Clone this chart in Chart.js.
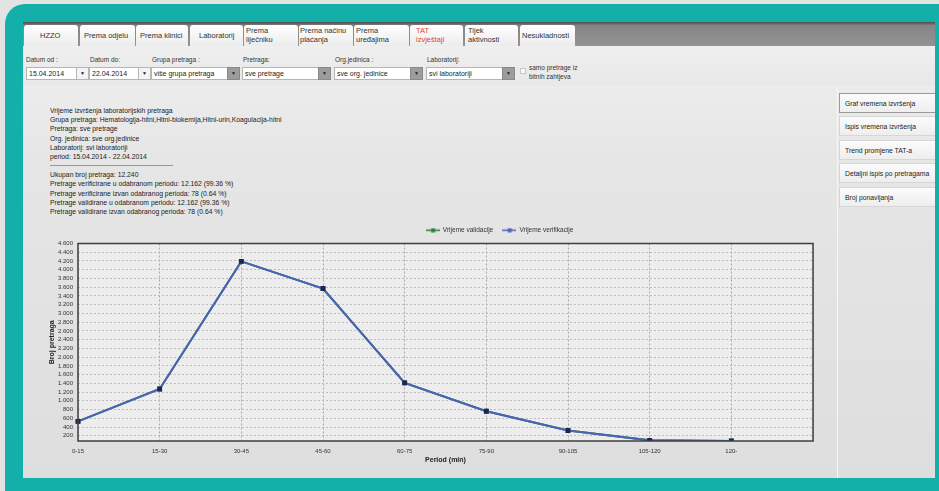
<!DOCTYPE html>
<html>
<head>
<meta charset="utf-8">
<script src="https://cdn.jsdelivr.net/npm/chart.js@4"></script>
<style>
  body { margin: 0; width: 939px; height: 491px; overflow: hidden; background: #e3e3e3; font-family: "Liberation Sans", Arial, sans-serif; position: relative; }
  .teal { position: absolute; left: 5px; top: 4px; width: 980px; height: 540px; background: #13b0aa; border-radius: 20px; }
  .app { position: absolute; left: 23px; top: 22px; width: 912px; height: 456px; background: linear-gradient(#f1f1f1, #e6e6e6 30%, #dedede); overflow: hidden; }
  .tabbar { position: absolute; left: 0; top: 0; width: 912px; height: 24px; background: linear-gradient(#4d4d4d, #858585 15%, #939393); }
  .tab { position: absolute; top: 3px; height: 21px; background: linear-gradient(#ffffff, #ececec); border-radius: 3px 3px 0 0; font-size: 7.5px; color: #333; line-height: 8.5px; box-sizing: border-box; }
  .tab span { position: absolute; }
  .toolbar { position: absolute; left: 0; top: 24px; width: 912px; height: 40px; background: linear-gradient(#efefef, #e8e8e8); }
  .lbl { position: absolute; font-size: 6.5px; color: #333; }
  .inp { position: absolute; height: 11px; background: #fff; border: 1px solid #b5b5b5; font-size: 7px; color: #222; line-height: 11px; padding-left: 2px; box-sizing: content-box; }
  .arr { position: absolute; height: 11px; width: 11px; background: #9c9c9c; border: 1px solid #8a8a8a; font-size: 5px; text-align: center; line-height: 11px; color: #222; }
  .arr.w { background: #f4f4f4; border-color: #b5b5b5; }
  .info { position: absolute; left: 27px; top: 84px; font-size: 6.8px; line-height: 9.2px; color: #222; white-space: nowrap; }
  .sep { width: 123px; border-top: 1px solid #9a9a9a; margin: 4px 0 4px 0; }
  .side { position: absolute; left: 814px; top: 64px; width: 1px; height: 400px; background: #f7f7f7; }
  .btn { position: absolute; left: 816px; width: 100px; height: 20px; background: linear-gradient(#fbfbfb, #eeeeee); border: 1px solid #d6d6d6; font-size: 6.8px; color: #222; line-height: 20px; padding-left: 5px; box-sizing: border-box; }
  .btn.sel { border-color: #9a9a9a; }
  #wrap { position: absolute; left: 17px; top: 196px; width: 792px; height: 252px; }
</style>
</head>
<body>
<div class="teal"></div>
<div class="app">
  <div class="tabbar">
    <div class="tab" style="left:1px;width:54px;"><span style="left:16px;top:7px;">HZZO</span></div>
    <div class="tab" style="left:57px;width:55px;"><span style="left:4px;top:7px;">Prema odjelu</span></div>
    <div class="tab" style="left:113px;width:52px;"><span style="left:4px;top:7px;">Prema klinici</span></div>
    <div class="tab" style="left:167px;width:53px;"><span style="left:9px;top:7px;">Laboratorij</span></div>
    <div class="tab" style="left:221px;width:54px;"><span style="left:2px;top:2px;">Prema<br>liječniku</span></div>
    <div class="tab" style="left:276px;width:54px;"><span style="left:1px;top:2px;">Prema načinu<br>plaćanja</span></div>
    <div class="tab" style="left:331px;width:55px;"><span style="left:2px;top:2px;">Prema<br>uređajima</span></div>
    <div class="tab" style="left:387px;width:53px;color:#e5442b;"><span style="left:6px;top:2px;">TAT<br>izvještaji</span></div>
    <div class="tab" style="left:442px;width:53px;"><span style="left:3px;top:2px;">Tijek<br>aktivnosti</span></div>
    <div class="tab" style="left:497px;width:55px;"><span style="left:2px;top:7px;">Nesukladnosti</span></div>
  </div>
  <div class="toolbar">
    <div class="lbl" style="left:3px;top:10px;">Datum od :</div>
    <div class="inp" style="left:3px;top:21px;width:48px;">15.04.2014</div>
    <div class="arr w" style="left:53px;top:21px;">▼</div>
    <div class="lbl" style="left:67px;top:10px;">Datum do:</div>
    <div class="inp" style="left:66px;top:21px;width:47px;">22.04.2014</div>
    <div class="arr w" style="left:115px;top:21px;">▼</div>
    <div class="lbl" style="left:129px;top:10px;">Grupa pretraga :</div>
    <div class="inp" style="left:128px;top:21px;width:74px;">više grupa pretraga</div>
    <div class="arr" style="left:204px;top:21px;">▼</div>
    <div class="lbl" style="left:220px;top:10px;">Pretraga:</div>
    <div class="inp" style="left:219px;top:21px;width:74px;">sve pretrage</div>
    <div class="arr" style="left:295px;top:21px;">▼</div>
    <div class="lbl" style="left:312px;top:10px;">Org.jedinica :</div>
    <div class="inp" style="left:311px;top:21px;width:74px;">sve org. jedinice</div>
    <div class="arr" style="left:387px;top:21px;">▼</div>
    <div class="lbl" style="left:404px;top:10px;">Laboratorij:</div>
    <div class="inp" style="left:403px;top:21px;width:74px;">svi laboratoriji</div>
    <div class="arr" style="left:479px;top:21px;">▼</div>
    <div class="lbl" style="left:497px;top:22px;width:4px;height:4px;border:1px solid #c8c8c8;background:#fafafa;"></div>
    <div class="lbl" style="left:506px;top:18px;line-height:8.5px;">samo pretrage iz<br>bitnih zahtjeva</div>
  </div>
  <div class="info">
    Vrijeme izvršenja laboratorijskih pretraga<br>
    Grupa pretraga: Hematologija-hitni,Hitni-biokemija,Hitni-urin,Koagulacija-hitni<br>
    Pretraga: sve pretrage<br>
    Org. jedinica: sve org.jedinice<br>
    Laboratorij: svi laboratoriji<br>
    period: 15.04.2014 - 22.04.2014
    <div class="sep"></div>
    Ukupan broj pretraga: 12.240<br>
    Pretrage verificirane u odabranom periodu: 12.162 (99.36 %)<br>
    Pretrage verificirane izvan odabranog perioda: 78 (0.64 %)<br>
    Pretrage validirane u odabranom periodu: 12.162 (99.36 %)<br>
    Pretrage validirane izvan odabranog perioda: 78 (0.64 %)
  </div>
  <div class="side"></div>
  <div class="btn sel" style="top:71px;">Graf vremena izvršenja</div>
  <div class="btn" style="top:94px;">Ispis vremena izvršenja</div>
  <div class="btn" style="top:118px;">Trend promjene TAT-a</div>
  <div class="btn" style="top:141px;">Detaljni ispis po pretragama</div>
  <div class="btn" style="top:165px;">Broj ponavljanja</div>
  <div id="wrap"><canvas id="myChart"></canvas></div>
</div>
<script>
// podaci očitani s grafa
const periods = ['0-15', '15-30', '30-45', '45-60', '60-75', '75-90', '90-105', '105-120', '120-', ''];
const vrijemeValidacije = [530, 1270, 4190, 3570, 1410, 760, 320, 95, 80, null];
const vrijemeVerifikacije = [530, 1270, 4190, 3570, 1410, 760, 320, 95, 80, null];
const yTickValues = [200, 400, 600, 800, 1000, 1200, 1400, 1600, 1800, 2000, 2200, 2400,
                     2600, 2800, 3000, 3200, 3400, 3600, 3800, 4000, 4200, 4400, 4600];
const yMin = 80;
const yMax = 4600;

function fmt(v) {
    return String(v).replace(/\B(?=(\d{3})+(?!\d))/g, '.');
}

// ikona legende: linija s kvadratićem u sredini
function legendIcon(color) {
    const c = document.createElement('canvas');
    c.width = 14; c.height = 5;
    const g = c.getContext('2d');
    g.strokeStyle = color; g.lineWidth = 1.5;
    g.beginPath(); g.moveTo(0, 2.5); g.lineTo(14, 2.5); g.stroke();
    g.fillStyle = color; g.fillRect(5.5, 0.5, 4, 4);
    return c;
}

const plotFrame = {
    id: 'plotFrame',
    afterLayout(chart) {
        // legenda je u originalu pomaknuta udesno
        chart.legend.left += 73;
        chart.legend.right += 73;
    },
    beforeDraw(chart) {
        const a = chart.chartArea, c = chart.ctx;
        c.save();
        c.fillStyle = '#ededed';
        c.fillRect(a.left, a.top, a.right - a.left, a.bottom - a.top);
        c.restore();
    },
    afterDraw(chart) {
        const a = chart.chartArea, c = chart.ctx;
        c.save();
        c.strokeStyle = '#3f3f3f';
        c.lineWidth = 1.5;
        c.strokeRect(a.left, a.top, a.right - a.left, a.bottom - a.top);
        c.restore();
    }
};

const ctx = document.getElementById('myChart').getContext('2d');

const myChart = new Chart(ctx, {
    type: 'line',
    data: {
        labels: periods,
        datasets: [{
            label: 'Vrijeme validacije',
            data: vrijemeValidacije,
            borderColor: '#2f7d3a',
            backgroundColor: '#2f7d3a',
            borderWidth: 2,
            pointStyle: 'rect',
            pointRadius: 2,
            tension: 0,
            order: 1
        }, {
            label: 'Vrijeme verifikacije',
            data: vrijemeVerifikacije,
            borderColor: '#4a62b8',
            backgroundColor: '#1d2552',
            pointBorderColor: '#1d2552',
            borderWidth: 2,
            pointStyle: 'rect',
            pointRadius: 2,
            tension: 0,
            order: 0
        }]
    },
    options: {
        responsive: true,
        maintainAspectRatio: false,
        animation: false,
        layout: { padding: { top: 0, right: 19, left: 0, bottom: 0 } },
        plugins: {
            legend: {
                position: 'top',
                labels: {
                    usePointStyle: true,
                    pointStyleWidth: 14,
                    boxHeight: 6,
                    padding: 9,
                    color: '#333',
                    font: { size: 6.5, family: 'Liberation Sans' },
                    generateLabels: function(chart) {
                        return chart.data.datasets.map((ds, i) => ({
                            text: ds.label,
                            pointStyle: legendIcon(ds.borderColor),
                            fillStyle: ds.borderColor,
                            strokeStyle: ds.borderColor,
                            lineWidth: 0,
                            fontColor: '#333',
                            datasetIndex: i
                        }));
                    }
                }
            },
            tooltip: { enabled: false }
        },
        scales: {
            x: {
                offset: false,
                grid: { color: '#a8a8a8', drawTicks: false },
                border: { display: false, dash: [2, 2] },
                ticks: { color: '#333', padding: 7, maxRotation: 0, autoSkip: false, font: { size: 6, family: 'Liberation Sans' } },
                title: { display: true, text: 'Period (min)', color: '#222', padding: { top: 0, bottom: 6 }, font: { size: 7, weight: 'bold', family: 'Liberation Sans' } },
                afterFit: function(scale) { scale.height = 29; }
            },
            y: {
                min: yMin,
                max: yMax,
                afterBuildTicks: function(scale) {
                    scale.ticks = yTickValues.map(v => ({ value: v }));
                },
                grid: { color: '#bdbdbd', drawTicks: false },
                border: { display: false, dash: [2, 2] },
                ticks: { color: '#333', padding: 5, autoSkip: false, font: { size: 6, family: 'Liberation Sans' }, callback: v => fmt(v) },
                title: { display: true, text: 'Broj pretraga', color: '#222', padding: { top: 8, bottom: 0 }, font: { size: 7, weight: 'bold', family: 'Liberation Sans' } },
                afterFit: function(scale) { scale.width = 38; }
            }
        }
    },
    plugins: [plotFrame]
});
</script>
</body>
</html>
